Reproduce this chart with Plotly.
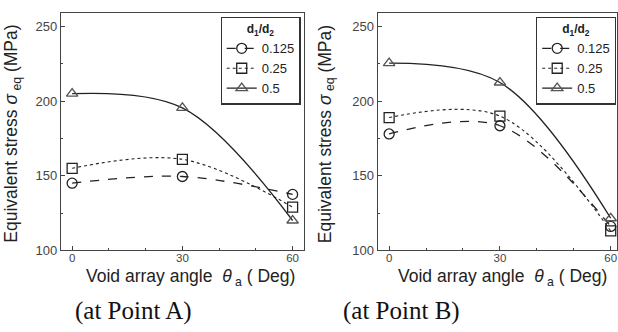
import plotly.graph_objects as go

angles = [0, 30, 60]
ratios = ["0.125", "0.25", "0.5"]
# Point A
a_0125 = [145, 149.5, 137.5]
a_025 = [155, 161, 129]
a_05 = [205, 195.5, 120]
# Point B
b_0125 = [178, 183.5, 116]
b_025 = [189, 190, 113]
b_05 = [225.5, 212.5, 121.5]

x_ticks = [0, 30, 60]
y_ticks = [100, 150, 200, 250]

styles = {
    "0.125": dict(symbol="circle-open", dash="dash", color="#222", lw=1.3),
    "0.25": dict(symbol="square-open", dash="dot", color="#222", lw=1.1),
    "0.5": dict(symbol="triangle-up-open", dash="solid", color="#222", lw=1.3),
}
marker_colors = {"0.125": "#222", "0.25": "#222", "0.5": "#555"}

fig = go.Figure()

def add(series, xa, ya, leg):
    for name, vals in zip(ratios, series):
        s = styles[name]
        fig.add_trace(go.Scatter(
            x=angles, y=vals, name=name, mode="lines+markers",
            xaxis=xa, yaxis=ya, legend=leg,
            line=dict(shape="spline", smoothing=1.0, dash=s["dash"],
                      color=s["color"], width=s["lw"]),
            marker=dict(symbol=s["symbol"], size=10,
                        color=marker_colors[name],
                        line=dict(width=1.3, color=marker_colors[name])),
            cliponaxis=True,
        ))

add([a_0125, a_025, a_05], "x", "y", "legend")
add([b_0125, b_025, b_05], "x2", "y2", "legend2")

W, H = 618, 332
yd = [(H - 256.5) / H, (H - 13) / H]
axis_common = dict(
    showline=True, linecolor="#444", linewidth=1.3, mirror=True,
    ticks="inside", ticklen=4, tickwidth=1, tickcolor="#444",
    showgrid=False, zeroline=False,
)
xfont = dict(family="Liberation Sans, Arial", size=11.5, color="#444")
yfont = dict(family="Liberation Sans, Arial", size=13, color="#444")
xminor = dict(dtick=10, ticks="inside", ticklen=2, tickwidth=1, tickcolor="#444")
yminor = dict(dtick=25, ticks="inside", ticklen=2, tickwidth=1, tickcolor="#444")

fig.update_layout(
    width=W, height=H,
    margin=dict(l=0, r=0, t=0, b=0),
    paper_bgcolor="white", plot_bgcolor="white",
    xaxis=dict(domain=[61 / W, 304.5 / W], range=[-3.06, 63.1],
               tickvals=x_ticks, minor=xminor, anchor="y", tickfont=xfont,
               ticklabelstandoff=-3, **axis_common),
    yaxis=dict(domain=yd, range=[100, 259.3], tickvals=y_ticks,
               minor=yminor, anchor="x", tickfont=yfont, **axis_common),
    xaxis2=dict(domain=[378.3 / W, 1.0], range=[-3.1, 61.7],
                tickvals=x_ticks, minor=xminor, anchor="y2", tickfont=xfont,
                ticklabelstandoff=-3, **axis_common),
    yaxis2=dict(domain=yd, range=[100, 259.3], tickvals=y_ticks,
                minor=yminor, anchor="x2", tickfont=yfont, **axis_common),
    showlegend=True,
)

leg_common = dict(
    yanchor="top", xanchor="right", y=1 - 17 / H,
    bgcolor="white", bordercolor="#333", borderwidth=1.2,
    font=dict(family="Liberation Sans, Arial", size=13, color="#222"),
    title=dict(text="<b>d<sub>1</sub>/d<sub>2</sub></b>", side="top center",
               font=dict(family="Liberation Sans, Arial", size=12, color="#222")),
    itemwidth=30, tracegroupgap=0,
)
fig.update_layout(
    legend=dict(x=301 / W, **leg_common),
    legend2=dict(x=617 / W, **leg_common),
)

title_font = dict(family="Liberation Sans, Arial", size=17.5, color="#222")
ytitle = "Equivalent stress <i>σ</i><sub> eq</sub> (MPa)"
xtitle = "Void array angle  <i>θ</i><sub> a</sub> ( Deg)"
for xc, yc_text in [(13, ytitle), (327, ytitle)]:
    fig.add_annotation(text=yc_text, x=xc / W, y=(H - 137) / H, xref="paper",
                       yref="paper", showarrow=False, textangle=-90,
                       font=title_font, xanchor="center", yanchor="middle")
for xc in [191, 503]:
    fig.add_annotation(text=xtitle, x=xc / W, y=(H - 284) / H, xref="paper",
                       yref="paper", showarrow=False, font=title_font,
                       xanchor="center", yanchor="middle")
cap_font = dict(family="Liberation Serif, DejaVu Serif, serif", size=25, color="#111")
for xc, t in [(134, "(at Point A)"), (402, "(at Point B)")]:
    fig.add_annotation(text=t, x=xc / W, y=(H - 319) / H, xref="paper",
                       yref="paper", showarrow=False, font=cap_font,
                       xanchor="center", yanchor="middle")

fig.write_html("out.html", config={"displayModeBar": False},
               post_script="document.body.style.margin='0';document.body.style.overflow='hidden';")
